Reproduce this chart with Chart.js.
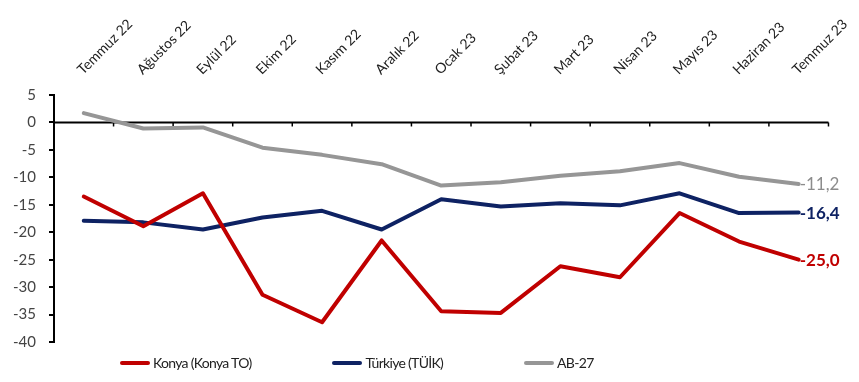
<!DOCTYPE html>
<html><head><meta charset="utf-8">
<script src="https://cdn.jsdelivr.net/npm/chart.js@4/dist/chart.umd.min.js"></script>
<style>
html,body{margin:0;padding:0;background:#fff;}
#wrap{position:relative;width:859px;height:382px;overflow:hidden;}
#legend{position:absolute;left:120px;top:354px;display:flex;gap:81px;font-family:Lato,sans-serif;font-size:14px;letter-spacing:-0.7px;color:#222;}
.item{display:flex;align-items:center;white-space:nowrap;}
.sw{width:30px;height:4px;margin-right:3px;border-radius:2px;}
</style></head><body>
<div id="wrap"><canvas id="c" width="859" height="382"></canvas><div id="legend"></div></div>
<script>
const categories = ["Temmuz 22","Ağustos 22","Eylül 22","Ekim 22","Kasım 22","Aralık 22","Ocak 23","Şubat 23","Mart 23","Nisan 23","Mayıs 23","Haziran 23","Temmuz 23"];
const konya   = [-13.5,-18.9,-12.9,-31.4,-36.4,-21.5,-34.4,-34.7,-26.2,-28.2,-16.5,-21.7,-25.0];
const turkiye = [-17.9,-18.2,-19.5,-17.3,-16.1,-19.5,-14.0,-15.3,-14.7,-15.1,-12.9,-16.5,-16.4];
const ab27    = [1.7,-1.1,-0.9,-4.6,-5.9,-7.6,-11.5,-10.9,-9.7,-8.9,-7.4,-9.9,-11.2];
const seriesNames = ["Konya (Konya TO)","Türkiye (TÜİK)","AB-27"];
const endLabels = ["-25,0","-16,4","-11,2"];
const yTicks = [5,0,-5,-10,-15,-20,-25,-30,-35,-40];

const colors = ["#C00000","#0E2263","#969696"];
const endBold = [true,true,false];
const endColors = ["#C00000","#0E2263","#8C8C8C"];

const zeroAxis = {
  id:'zeroAxis',
  beforeDatasetsDraw(chart){
    const {ctx, chartArea, scales:{x,y}} = chart;
    const y0 = y.getPixelForValue(0);
    ctx.save();
    ctx.strokeStyle = '#000'; ctx.lineWidth = 2;
    ctx.beginPath(); ctx.moveTo(chartArea.left, y0); ctx.lineTo(chartArea.right, y0); ctx.stroke();
    const step = x.getPixelForValue(1) - x.getPixelForValue(0);
    ctx.lineWidth = 1.5;
    for (let i = 0; i <= categories.length; i++) {
      const px = x.getPixelForValue(i) - step/2;
      ctx.beginPath(); ctx.moveTo(px, y0); ctx.lineTo(px, y0 + 4); ctx.stroke();
    }
    ctx.restore();
  }
};
const endLabelPlugin = {
  id:'endLabels',
  afterDatasetsDraw(chart){
    const ctx = chart.ctx;
    chart.data.datasets.forEach((ds, i) => {
      const meta = chart.getDatasetMeta(i);
      const pt = meta.data[meta.data.length - 1];
      ctx.save();
      ctx.font = (endBold[i] ? 'bold ' : '') + '17px Lato, sans-serif';
      ctx.fillStyle = endColors[i];
      ctx.textAlign = 'left'; ctx.textBaseline = 'middle';
      ctx.fillText(endLabels[i], pt.x + 1, pt.y + 1);
      ctx.restore();
    });
  }
};

const datasets = [konya, turkiye, ab27].map((d, i) => ({
  label: seriesNames[i], data: d, borderColor: colors[i], backgroundColor: colors[i],
  borderWidth: 4, pointRadius: 0, tension: 0, fill: false, borderCapStyle: 'round', borderJoinStyle: 'round'
}));

const chart = new Chart(document.getElementById('c'), {
  type: 'line',
  data: { labels: categories, datasets },
  options: {
    responsive: false, animation: false,
    layout: { padding: { left: 0, right: 30, top: 7, bottom: 40 } },
    plugins: { legend: { display: false }, tooltip: { enabled: false } },
    scales: {
      x: {
        position: 'top', offset: true,
        grid: { display: false }, border: { display: false },
        ticks: { minRotation: 45, maxRotation: 45, padding: 9, labelOffset: 8, color: '#222', font: { family: 'Lato', size: 14 } }
      },
      y: {
        min: -40, max: 5,
        afterBuildTicks(s){ s.ticks = yTicks.map(v => ({ value: v })); },
        grid: { drawOnChartArea: false, drawTicks: true, tickLength: 5, color: '#000', lineWidth: 2 },
        border: { display: true, color: '#000', width: 2 },
        ticks: { padding: 13, color: '#444', font: { family: 'Lato', size: 15 } }
      }
    }
  },
  plugins: [zeroAxis, endLabelPlugin]
});

const lg = document.getElementById('legend');
seriesNames.forEach((n, i) => {
  const it = document.createElement('div'); it.className = 'item';
  const sw = document.createElement('span'); sw.className = 'sw'; sw.style.background = colors[i];
  const tx = document.createElement('span'); tx.textContent = n;
  it.appendChild(sw); it.appendChild(tx); lg.appendChild(it);
});
</script>
</body></html>
